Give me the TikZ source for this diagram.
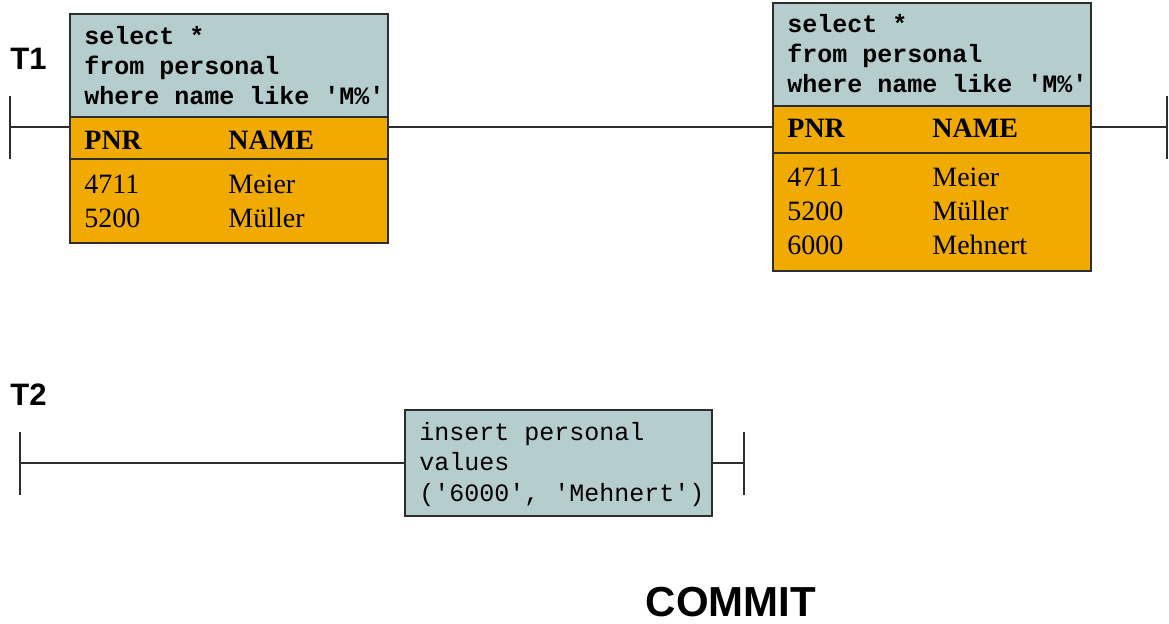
\documentclass[tikz,border=0pt]{standalone}
\usepackage{fontspec}
\setmainfont{Liberation Serif}
\setsansfont{Liberation Sans}
\setmonofont{Liberation Mono}
\definecolor{sqlfill}{RGB}{181,205,205}
\definecolor{rowfill}{RGB}{240,170,0}
\definecolor{edge}{RGB}{45,45,45}
\tikzset{
  px/.style={x=0.5pt,y=-0.5pt},
  sqlbox/.style={draw=edge,line width=0.8pt,fill=sqlfill,inner sep=0pt,rectangle},
  rowbox/.style={draw=edge,line width=0.8pt,fill=rowfill,inner sep=0pt,rectangle},
  timeline/.style={draw=edge,line width=0.9pt},
  tickmark/.style={draw=edge,line width=0.9pt},
  code/.style={anchor=base west,inner sep=0pt,font=\fontsize{12.5}{15}\selectfont\ttfamily\bfseries},
  codelight/.style={anchor=base west,inner sep=0pt,font=\fontsize{12.5}{15}\selectfont\ttfamily},
  cell/.style={anchor=base west,inner sep=0pt,font=\fontsize{14}{16}\selectfont\rmfamily},
  headcell/.style={anchor=base west,inner sep=0pt,font=\fontsize{14}{16}\selectfont\rmfamily\bfseries},
  tlabel/.style={anchor=base west,inner sep=0pt,font=\fontsize{15.5}{18}\selectfont\sffamily\bfseries},
}
\begin{document}
\begin{tikzpicture}[px]
\useasboundingbox (0,0) rectangle (1169,624);

% ---- transaction T1 ----
\node[tlabel] (lt1) at (10,70) {T1};
\coordinate (t1a) at (10,127);
\coordinate (t1b) at (1167,127);

% first query of T1
\node[sqlbox,minimum width=159pt,minimum height=51.5pt] (q1) at (229,65.5) {};
\node[rowbox,minimum width=159pt,minimum height=21pt] (h1) at (229,138) {};
\node[rowbox,minimum width=159pt,minimum height=42pt] (d1) at (229,201) {};
\node[code] (q1a) at (84,45) {select *};
\node[code] (q1b) at (84,75) {from personal};
\node[code] (q1c) at (84,105) {where name like 'M\%'};
\node[headcell] (h1a) at (84,150) {PNR};
\node[headcell] (h1b) at (228,150) {NAME};
\node[cell] (r1a) at (84,194) {4711};
\node[cell] (r1b) at (228,194) {Meier};
\node[cell] (r2a) at (84,228) {5200};
\node[cell] (r2b) at (228,228) {Müller};

% second query of T1
\node[sqlbox,minimum width=159pt,minimum height=51.5pt] (q2) at (932,54.5) {};
\node[rowbox,minimum width=159pt,minimum height=23.5pt] (h2) at (932,129.5) {};
\node[rowbox,minimum width=159pt,minimum height=59pt] (d2) at (932,212) {};
\node[code] (q2a) at (787,33) {select *};
\node[code] (q2b) at (787,63) {from personal};
\node[code] (q2c) at (787,93) {where name like 'M\%'};
\node[headcell] (h2a) at (787,138) {PNR};
\node[headcell] (h2b) at (932,138) {NAME};
\node[cell] (s1a) at (787,187) {4711};
\node[cell] (s1b) at (932,187) {Meier};
\node[cell] (s2a) at (787,221) {5200};
\node[cell] (s2b) at (932,221) {Müller};
\node[cell] (s3a) at (787,255) {6000};
\node[cell] (s3b) at (932,255) {Mehnert};

% T1 time line with start and end marks
\draw[tickmark] ([yshift=-16pt]t1a) -- ([yshift=15.5pt]t1a);
\draw[tickmark] ([yshift=-16pt]t1b) -- ([yshift=15.5pt]t1b);
\draw[timeline] (t1a) -- (t1a -| h1.west);
\draw[timeline] (t1a -| h1.east) -- (t1a -| h2.west);
\draw[timeline] (t1a -| h2.east) -- (t1b);

% ---- transaction T2 ----
\node[tlabel] (lt2) at (10,406) {T2};
\coordinate (t2a) at (20,463);
\coordinate (t2b) at (744,463);
\node[sqlbox,minimum width=153.5pt,minimum height=53pt] (ins) at (558.5,463) {};
\node[codelight] (insa) at (419,441) {insert personal};
\node[codelight] (insb) at (419,471) {values};
\node[codelight] (insc) at (419,502) {('6000', 'Mehnert')};
\draw[tickmark] ([yshift=-16pt]t2a) -- ([yshift=15.5pt]t2a);
\draw[tickmark] ([yshift=-16pt]t2b) -- ([yshift=15.5pt]t2b);
\draw[timeline] (t2a) -- (ins.west);
\draw[timeline] (ins.east) -- (t2b);

% commit of T2
\node[anchor=base,inner sep=0pt,font=\fontsize{21}{24}\selectfont\sffamily\bfseries] (commit) at (731,617) {COMMIT};
\end{tikzpicture}
\end{document}
